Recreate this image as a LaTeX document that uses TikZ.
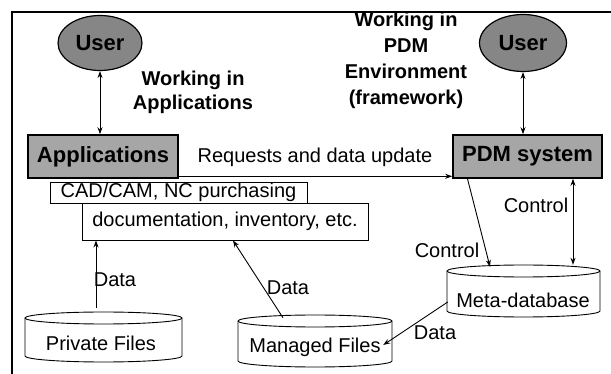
\documentclass[tikz,border=0pt]{standalone}
\usepackage{fontspec}
\setmainfont{Liberation Sans}
\usetikzlibrary{shapes.geometric,arrows.meta}
\definecolor{ellgray}{HTML}{868686}
\definecolor{boxgray}{HTML}{A6A6A6}
\begin{document}
\begin{tikzpicture}[x=1pt,y=-1pt,
  lbl/.style={font=\fontsize{20}{24}\selectfont, inner sep=0pt},
  blbl/.style={font=\bfseries\fontsize{20}{24}\selectfont, align=center, inner sep=0pt},
  usernode/.style={ellipse, draw=black, line width=1.2pt, fill=ellgray, inner sep=0pt,
    font=\bfseries\fontsize{22}{24}\selectfont},
  sysbox/.style={rectangle, draw=black, line width=1.6pt, fill=boxgray, inner sep=0pt,
    font=\bfseries\fontsize{22}{24}\selectfont},
  txtbox/.style={rectangle, draw=black, line width=0.9pt, fill=white, inner sep=0pt,
    font=\fontsize{20}{24}\selectfont},
  conn/.style={line width=0.9pt, -{Stealth[length=7pt,width=5pt]}},
  bconn/.style={line width=0.9pt, {Stealth[length=7pt,width=5pt]}-{Stealth[length=7pt,width=5pt]}},
  cylline/.style={draw=black, line width=0.9pt, fill=white},
  anchorbox/.style={rectangle, inner sep=0pt}
]
\useasboundingbox (0,0) rectangle (611,374);
% frame
\draw[line width=1.4pt] (12,374) -- (12,12) -- (611,12);

% users
\node[usernode, minimum width=84, minimum height=55] (userL) at (100,43) {User};
\node[usernode, minimum width=87, minimum height=57] (userR) at (523,43) {User};

% systems
\node[sysbox, minimum width=150, minimum height=43] (apps) at (103,156.5) {Applications};
\node[sysbox, minimum width=149, minimum height=43] (pdm) at (527.5,156.5) {PDM system};

% application list boxes
\node[txtbox, minimum width=286, minimum height=37] (doc) at (225,221.5) {documentation, inventory, etc.};
\node[txtbox, minimum width=257, minimum height=21] (cad) at (178.5,192.5) {CAD/CAM, NC purchasing};

% headings
\node[blbl] (hApp) at (193,92) {Working in\\Applications};
\node[blbl, font=\bfseries\fontsize{20}{26}\selectfont] (hPdm) at (406,60) {Working in\\PDM\\Environment\\(framework)};

% cylinders
\draw[cylline] (25,318) -- (25,356) arc[start angle=180,end angle=0,x radius=78.5,y radius=6] -- (182,318) arc[start angle=0,end angle=-180,x radius=78.5,y radius=6] -- cycle;
\draw[line width=0.9pt] (25,318) arc[start angle=180,end angle=0,x radius=78.5,y radius=6];
\node[anchorbox, minimum width=157, minimum height=50] (priv) at (103.5,337) {};
\node[lbl] (privT) at (101,343) {Private Files};

\draw[cylline] (238,321) -- (238,361) arc[start angle=180,end angle=0,x radius=77,y radius=6] -- (392,321) arc[start angle=0,end angle=-180,x radius=77,y radius=6] -- cycle;
\draw[line width=0.9pt] (238,321) arc[start angle=180,end angle=0,x radius=77,y radius=6];
\node[anchorbox, minimum width=154, minimum height=52] (man) at (315,341) {};
\node[lbl] (manT) at (315,347) {Managed Files};

\draw[cylline] (447,271) -- (447,311) arc[start angle=180,end angle=0,x radius=76.5,y radius=6] -- (600,271) arc[start angle=0,end angle=-180,x radius=76.5,y radius=6] -- cycle;
\draw[line width=0.9pt] (447,271) arc[start angle=180,end angle=0,x radius=76.5,y radius=6];
\node[anchorbox, minimum width=153, minimum height=52] (meta) at (523.5,291) {};
\node[lbl] (metaT) at (523,300) {Meta-database};

% connectors
\draw[bconn] (userL.south) -- (userL.south |- apps.north);
\draw[bconn] (userR.south) -- (userR.south |- pdm.north);
\draw[conn] ([yshift=2.5pt]apps.south east) -- ([yshift=2.5pt]apps.south east -| pdm.west);
\node[lbl] (req) at (315,157) {Requests and data update};

\draw[conn] ([xshift=-7.5pt,yshift=4pt]priv.north) -- ([xshift=-7.5pt]priv.north |- doc.south);
\node[lbl] (d1) at (115,280) {Data};

\draw[conn] ([xshift=-32pt,yshift=-3pt]man.north) -- ([xshift=8pt]doc.south);
\node[lbl] (d2) at (288,288) {Data};

\draw[conn] ([xshift=1pt,yshift=-11pt]meta.west) -- ([xshift=-9pt,yshift=-4pt]man.east);
\node[lbl] (d3) at (435,333) {Data};

\draw[conn] ([xshift=-60pt]pdm.south) -- ([xshift=-33.5pt,yshift=-2pt]meta.north);
\node[lbl] (c1) at (447,250) {Control};

\draw[bconn] ([xshift=45.5pt]pdm.south) -- ([xshift=45.5pt]pdm.south |- meta.north);
\node[lbl] (c2) at (536,205) {Control};
\end{tikzpicture}
\end{document}
